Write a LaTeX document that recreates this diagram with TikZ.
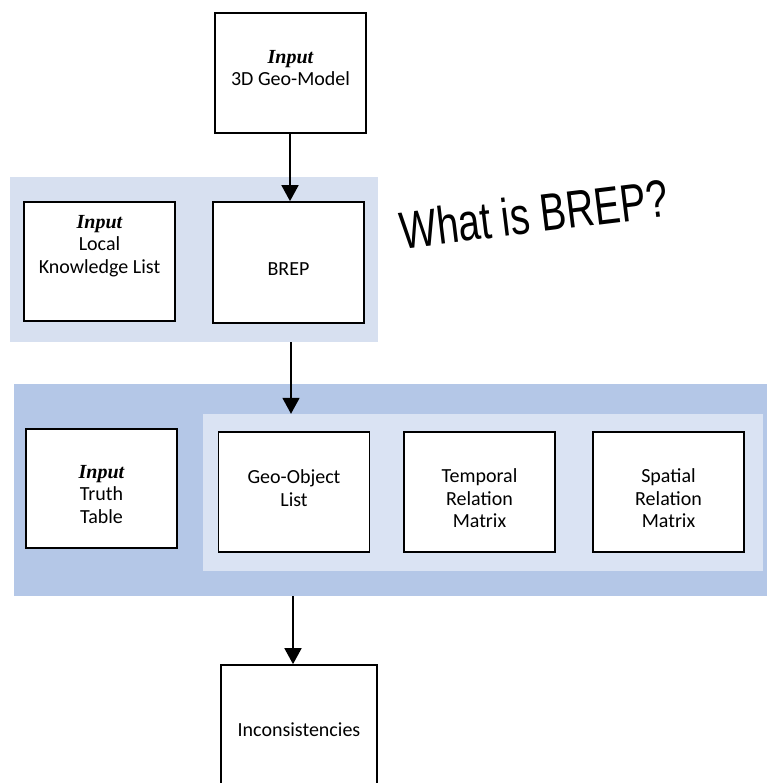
\documentclass[tikz,border=0pt]{standalone}
\usepackage{fontspec}
\setmainfont{Carlito}
\newfontfamily\inputfont{Liberation Serif}
\newfontfamily\handfont{Liberation Sans}
\usetikzlibrary{arrows.meta}
\definecolor{bandlight}{HTML}{D7E0F0}
\definecolor{banddark}{HTML}{B4C7E7}
\definecolor{bandinner}{HTML}{DAE3F3}
\newcommand{\inp}{{\inputfont\bfseries\itshape\fontsize{20}{22}\selectfont Input}}
\begin{document}
\begin{tikzpicture}[x=1pt,y=-1pt,
  box/.style={draw=black,line width=1.7pt,fill=white,minimum width=151pt,minimum height=120pt,inner sep=0pt},
  txt/.style={align=center,inner sep=0pt,font=\fontsize{20}{22.5}\selectfont},
  band/.style={draw=none,inner sep=0pt},
  arr/.style={line width=1.7pt,-{Triangle[length=16pt,width=17pt]}}]
\useasboundingbox (0,0) rectangle (767,783);
\clip (0,0) rectangle (767,783);
\fill[white] (0,0) rectangle (767,783);
% bands
\node[band,fill=bandlight,minimum width=368pt,minimum height=165pt] (band1) at (194,259.5) {};
\node[band,fill=banddark,minimum width=753pt,minimum height=212pt] (band2) at (390.5,490) {};
\node[band,fill=bandinner,minimum width=560pt,minimum height=157pt] (inner) at (483,492.5) {};
% boxes
\node[box] (top) at (290.5,73) {};
\node[box,minimum height=119pt] (local) at (99.5,261.5) {};
\node[box,minimum height=121pt] (brep) at (288.5,262.5) {};
\node[box,minimum height=119pt] (truth) at (101.5,488.5) {};
\node[box] (geo) at (294,492) {};
\node[box] (temporal) at (479.5,492) {};
\node[box] (spatial) at (668.5,492) {};
\node[box,minimum width=156pt,minimum height=150pt] (incon) at (299,740) {};
% texts
\node[txt] (topT) at (290.5,68) {\inp\\3D Geo-Model};
\node[txt] (localT) at (99.5,246) {\inp\\Local\\Knowledge List};
\node[txt] (brepT) at (288.5,269.5) {BREP};
\node[txt] (truthT) at (101.5,494.5) {\inp\\Truth\\Table};
\node[txt] (geoT) at (294,488) {Geo-Object\\List};
\node[txt] (temporalT) at (479.5,498.5) {Temporal\\Relation\\Matrix};
\node[txt] (spatialT) at (668.5,498.5) {Spatial\\Relation\\Matrix};
\node[txt] (inconT) at (299,730) {Inconsistencies};
% handwritten note
\node[font=\handfont\fontsize{39}{42}\selectfont,rotate=7,yscale=1.35,inner sep=0pt] (note) at (534,214) {What is BREP?};
% connectors
\coordinate (a1) at (290,133);
\coordinate (a2) at (291,342);
\coordinate (a3) at (293,596);
\draw[arr] (a1) -- (a1 |- brep.north);
\draw[arr] (a2) -- (a2 |- inner.north);
\draw[arr] (a3) -- (a3 |- incon.north);
\end{tikzpicture}
\end{document}
